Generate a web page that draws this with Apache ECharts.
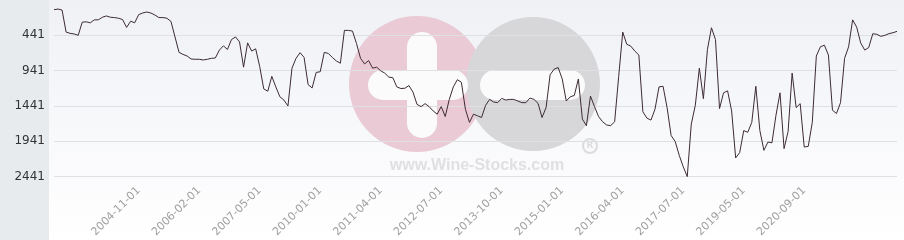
<!DOCTYPE html>
<html>
<head>
<meta charset="utf-8">
<script src="https://cdn.jsdelivr.net/npm/echarts@6/dist/echarts.min.js"></script>
<style>
html,body{margin:0;padding:0;background:#fff;}
#chart{width:904px;height:240px;}
</style>
</head>
<body>
<div id="chart"></div>
<script>
const values = [
  78, 69, 83, 395, 413, 422, 441, 255, 250, 264,
  222, 222, 185, 167, 185, 190, 199, 218, 329, 241,
  264, 148, 125, 111, 125, 153, 190, 190, 199, 245,
  464, 683, 711, 734, 776, 780, 780, 790, 780, 767,
  762, 650, 590, 641, 501, 464, 534, 892, 548, 664,
  632, 883, 1199, 1232, 1022, 1171, 1311, 1357, 1441, 906,
  767, 687, 753, 1139, 1185, 966, 957, 683, 697, 753,
  804, 836, 371, 371, 381, 557, 767, 846, 799, 906,
  892, 943, 976, 1032, 1041, 1171, 1194, 1190, 1152, 1245,
  1418, 1450, 1408, 1450, 1511, 1557, 1450, 1590, 1348, 1171,
  1069, 1106, 1487, 1673, 1557, 1580, 1604, 1432, 1348, 1385,
  1394, 1334, 1357, 1348, 1348, 1371, 1394, 1394, 1329, 1348,
  1404, 1604, 1464, 999, 920, 897, 1059, 1371, 1311, 1292,
  1059, 1627, 1720, 1301, 1450, 1590, 1664, 1710, 1720, 1664,
  1022, 395, 567, 594, 664, 720, 1524, 1613, 1641, 1487,
  1171, 1162, 1464, 1859, 1943, 2138, 2301, 2441, 1697, 1431,
  906, 1338, 641, 334, 501, 1478, 1255, 1227, 1511, 2176,
  2101, 1790, 1813, 1673, 1162, 1790, 2069, 1952, 1962, 1571,
  1255, 2045, 1803, 976, 1464, 1408, 2022, 2013, 1673, 734,
  604, 581, 720, 1501, 1548, 1394, 767, 604, 222, 325,
  548, 650, 613, 418, 427, 455, 441, 418, 404, 385
];
// Date labels shown on the x axis
const tickLabels = ['2004-11-01','2006-02-01','2007-05-01','2010-01-01','2011-04-01','2012-07-01',
  '2013-10-01','2015-01-01','2016-04-01','2017-07-01','2019-05-01','2020-09-01'];
const labelFirstIndex = 21;
const labelEvery = 15;
// Y tick labels
const yTicks = [441, 941, 1441, 1941, 2441];

function labelAt(i){
  const k = (i - labelFirstIndex) / labelEvery;
  if (Number.isInteger(k) && k >= 0 && k < tickLabels.length) return tickLabels[k];
  return null;
}
const categories = values.map((_, i) => labelAt(i) || ('#' + i));

const chart = echarts.init(document.getElementById('chart'), null, {renderer: 'canvas'});
const option = {
  animation: false,
  backgroundColor: '#ffffff',
  graphic: [
    {type: 'rect', z: -20, shape: {x: 49, y: 0, width: 855, height: 240},
      style: {fill: new echarts.graphic.LinearGradient(0, 0, 0, 1, [
        {offset: 0, color: '#eff1f5'}, {offset: 0.85, color: '#fdfdfe'}, {offset: 1, color: '#ffffff'}])}},
    {type: 'rect', z: -20, shape: {x: 0, y: 0, width: 49, height: 240}, style: {fill: '#e8ebee'}},
    {type: 'circle', z: -15, shape: {cx: 417, cy: 84, r: 68}, style: {fill: '#eacbd5'}},
    {type: 'circle', z: -15, shape: {cx: 533, cy: 84, r: 67}, style: {fill: '#d7d7da'}},
    {type: 'rect', z: -14, shape: {x: 407, y: 32, width: 30, height: 106, r: 15}, style: {fill: '#fbfbfc'}},
    {type: 'rect', z: -14, shape: {x: 368, y: 70, width: 100, height: 30, r: 15}, style: {fill: '#fbfbfc'}},
    {type: 'rect', z: -14, shape: {x: 480, y: 70, width: 105, height: 30, r: 15}, style: {fill: '#fbfbfc'}},
    {type: 'text', z: -14, x: 477, y: 166, style: {text: 'www.Wine-Stocks.com', fill: '#e0e0e3',
      font: 'bold 16px "Liberation Sans", Arial, sans-serif', align: 'center', verticalAlign: 'middle'}},
    {type: 'circle', z: -14, shape: {cx: 590, cy: 146, r: 7}, style: {fill: 'none', stroke: '#dcdcdf', lineWidth: 2}},
    {type: 'text', z: -14, x: 590, y: 146, style: {text: 'R', fill: '#dcdcdf',
      font: 'bold 9px "DejaVu Sans", sans-serif', align: 'center', verticalAlign: 'middle'}}
  ],
  grid: {left: 54, right: 7, top: 0, height: 183, containLabel: false},
  xAxis: {
    type: 'category',
    data: categories,
    boundaryGap: false,
    axisLine: {show: false},
    axisTick: {show: false},
    splitLine: {show: false},
    axisLabel: {
      interval: (i) => labelAt(i) !== null,
      rotate: 45,
      margin: 8,
      color: '#a0a0a0',
      fontSize: 11,
      fontFamily: 'DejaVu Sans',
      formatter: (v) => (v.charAt(0) === '#' ? '' : v)
    }
  },
  yAxis: {
    type: 'value',
    inverse: true,
    min: yTicks[0] - 500,
    max: 2500,
    interval: 500,
    axisLine: {show: false},
    axisTick: {show: false},
    splitLine: {show: true, lineStyle: {color: ['rgba(0,0,0,0)', '#dfe0e4', '#dfe0e4', '#dfe0e4', '#dfe0e4', '#dfe0e4', 'rgba(0,0,0,0)'], width: 1}},
    axisLabel: {
      margin: 9,
      color: '#333333',
      fontSize: 12,
      fontFamily: 'DejaVu Sans',
      formatter: (v) => (yTicks.indexOf(v) >= 0 ? String(v) : '')
    }
  },
  series: [{
    type: 'line',
    data: values,
    symbol: 'none',
    lineStyle: {color: '#3d2b33', width: 1},
    z: 5
  }]
};
chart.setOption(option);
</script>
</body>
</html>
